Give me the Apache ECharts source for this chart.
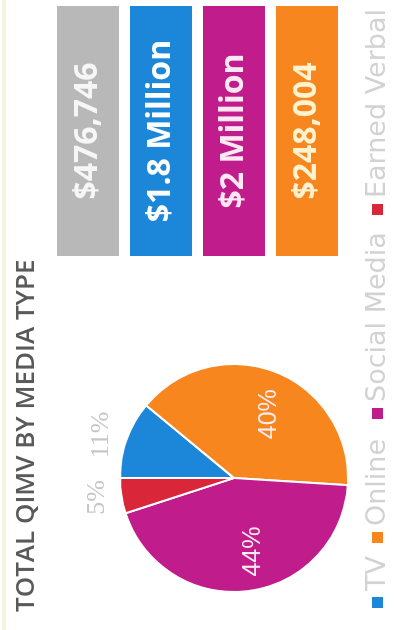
<!DOCTYPE html>
<html>
<head>
<meta charset="utf-8">
<script src="https://cdn.jsdelivr.net/npm/echarts@6/dist/echarts.min.js"></script>
<style>
  html, body { margin: 0; padding: 0; background: #fff; overflow: hidden; width: 395px; height: 630px; }
  /* The card is laid out landscape and turned a quarter turn so it reads bottom-to-top */
  #chart { position: absolute; left: 0; top: 0; width: 630px; height: 395px;
           transform-origin: 0 0; transform: translateY(630px) rotate(-90deg); }
</style>
</head>
<body>
<div id="chart"></div>
<script>
// Share of total QIMV by media type
const mediaTypes = ['TV', 'Online', 'Social Media', 'Earned Verbal'];
const sharePercent = [11, 40, 44, 5];
const sliceColors = ['#1c87d9', '#f7861f', '#c11c8b', '#d92638'];

// Dollar value tiles shown beside the pie
const tileValues = ['$476,746', '$1.8 Million', '$2 Million', '$248,004'];
const tileColors = ['#b8b8b8', '#1c87d9', '#c11c8b', '#f7861f'];
const tileTextColors = ['#f6f6f6', '#ffffff', '#fce8f3', '#fff2cf'];

// Layout helpers
const pieCenter = [152, 234];
const pieRadius = 114;
const labelNudge = [{ dx: -33, dy: 0 }, { dx: 8, dy: 13 }, { dx: -14, dy: 12 }, { dx: 25, dy: 2 }];
const legendLefts = [20, 85, 209, 413];
const tileBox = { x: 374, y: 57, width: 250, height: 62, pitch: 73 };

const chart = echarts.init(document.getElementById('chart'), null, { renderer: 'canvas' });

const insideLabel = { position: 'inside', color: '#fdebf1', fontSize: 25, fontFamily: 'Liberation Sans' };
const outsideLabel = { position: 'outside', color: '#c6c6c6', fontSize: 26, fontFamily: 'Liberation Serif' };

const graphics = [
  { type: 'rect', shape: { x: 0, y: 2, width: 630, height: 4 }, style: { fill: '#f8f3de' }, silent: true }
];
tileValues.forEach((txt, i) => {
  const y = tileBox.y + i * tileBox.pitch;
  graphics.push({
    type: 'rect',
    shape: { x: tileBox.x, y: y, width: tileBox.width, height: tileBox.height },
    style: { fill: tileColors[i] },
    silent: true
  });
  graphics.push({
    type: 'text',
    x: tileBox.x + tileBox.width / 2,
    y: y + tileBox.height / 2,
    style: {
      text: txt,
      fill: tileTextColors[i],
      font: 'bold 32px "Open Sans"',
      textAlign: 'center', textVerticalAlign: 'middle',
      align: 'center', verticalAlign: 'middle'
    },
    silent: true
  });
});

// One legend entry per media type, spaced along the bottom edge
const legends = mediaTypes.map((name, i) => ({
  left: legendLefts[i], top: 364, padding: 0,
  icon: 'rect', itemWidth: 13, itemHeight: 13,
  selectedMode: false,
  data: [name],
  textStyle: { color: '#d2d2d2', fontSize: 27, fontFamily: 'DejaVu Sans' }
}));

chart.setOption({
  animation: false,
  backgroundColor: '#ffffff',
  title: {
    text: 'TOTAL QIMV BY MEDIA TYPE',
    left: 18, top: 14, padding: 0,
    textStyle: { fontFamily: 'Open Sans', fontWeight: 600, fontSize: 26, color: '#5a5a5a' }
  },
  legend: legends,
  graphic: graphics,
  series: [{
    type: 'pie',
    center: pieCenter,
    radius: pieRadius,
    startAngle: 90,
    clockwise: true,
    avoidLabelOverlap: false,
    itemStyle: { borderColor: '#ffffff', borderWidth: 2 },
    label: { formatter: '{c}%' },
    labelLine: { show: false, length: 27, length2: 0 },
    labelLayout: (p) => labelNudge[p.dataIndex],
    emphasis: { disabled: true },
    data: mediaTypes.map((name, i) => ({
      name: name,
      value: sharePercent[i],
      itemStyle: { color: sliceColors[i] },
      label: sharePercent[i] >= 20 ? insideLabel : outsideLabel
    }))
  }]
});
</script>
</body>
</html>
